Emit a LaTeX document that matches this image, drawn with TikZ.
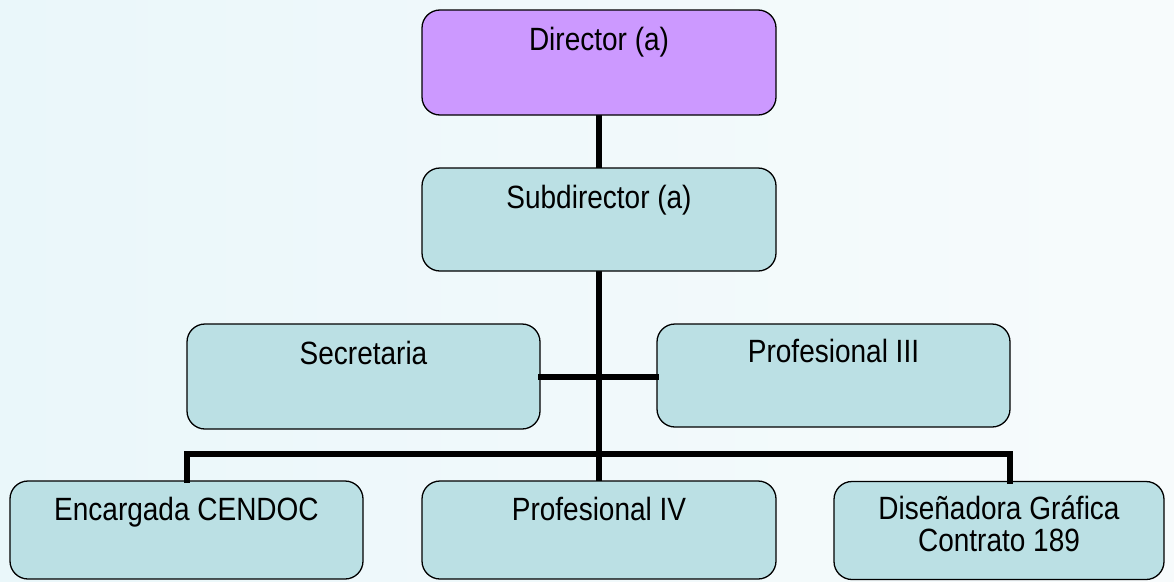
\documentclass[tikz,border=0pt]{standalone}
\usepackage{fontspec}
\setmainfont{Liberation Sans}
\usepackage{graphicx}
\definecolor{bgA}{RGB}{234,247,250}
\definecolor{bgB}{RGB}{247,251,252}
\definecolor{headfill}{RGB}{204,153,255}
\definecolor{unitfill}{RGB}{187,224,228}
\newcommand{\lbl}[1]{\scalebox{1}[1.15]{#1}}
\newcommand{\boxfont}{\fontsize{28}{32}\selectfont}
\begin{document}
\lineskiplimit=-100pt
\lineskip=0pt
\begin{tikzpicture}[x=1pt,y=-1pt,
  box/.style={draw=black, line width=1.3pt, rounded corners=18pt,
    fill=unitfill, inner sep=0pt, align=center, font=\boxfont,
    minimum width=354pt, text height=40pt},
  head/.style={box, fill=headfill},
  link/.style={draw=black, line width=6pt, line cap=rect, line join=miter}]
  % page and soft background wash
  \useasboundingbox (0,0) rectangle (1174,581);
  \shade[left color=bgA, right color=bgB] (0,0) rectangle (1174,581);

  % reporting lines, drawn first so the boxes sit on top
  \coordinate (dirS) at (599,115);
  \coordinate (subN) at (599,168);
  \coordinate (subS) at (599,271);
  \coordinate (p4N) at (599,481);
  \draw[link] (dirS) -- (subN);
  \draw[link] (subS) -- (p4N);

  % units of the chart
  \node[head, text depth=65pt] (dir) at (599,62.5) {\lbl{Director (a)}};
  \node[box, text depth=63pt] (sub) at (599,219.5) {\lbl{Subdirector (a)}};
  \node[box, minimum width=353pt, text depth=65pt] (sec) at (363.5,376.5) {\lbl{Secretaria}};
  \node[box, minimum width=353pt, text height=38pt, text depth=65pt] (p3) at (833.5,375.5) {\lbl{Profesional III}};
  \node[box, minimum width=353pt, text height=39pt, text depth=59pt] (enc) at (186.5,530) {\lbl{Encargada CENDOC}};
  \node[box, text height=39pt, text depth=59pt] (p4) at (599,530) {\lbl{Profesional IV}};
  \node[box, minimum width=330pt, text height=70pt, text depth=28pt] (dis) at (999,530.5) {\lbl{Diseñadora Gráfica}\\\lbl{Contrato 189}};

  % branches between the boxes
  \coordinate (disin) at ([xshift=11pt]dis.north);
  \draw[link] (sec.east) -- (sec.east -| p3.west);
  \draw[link] (enc.north) -- ++(0,-26) -| (disin);
\end{tikzpicture}
\end{document}
